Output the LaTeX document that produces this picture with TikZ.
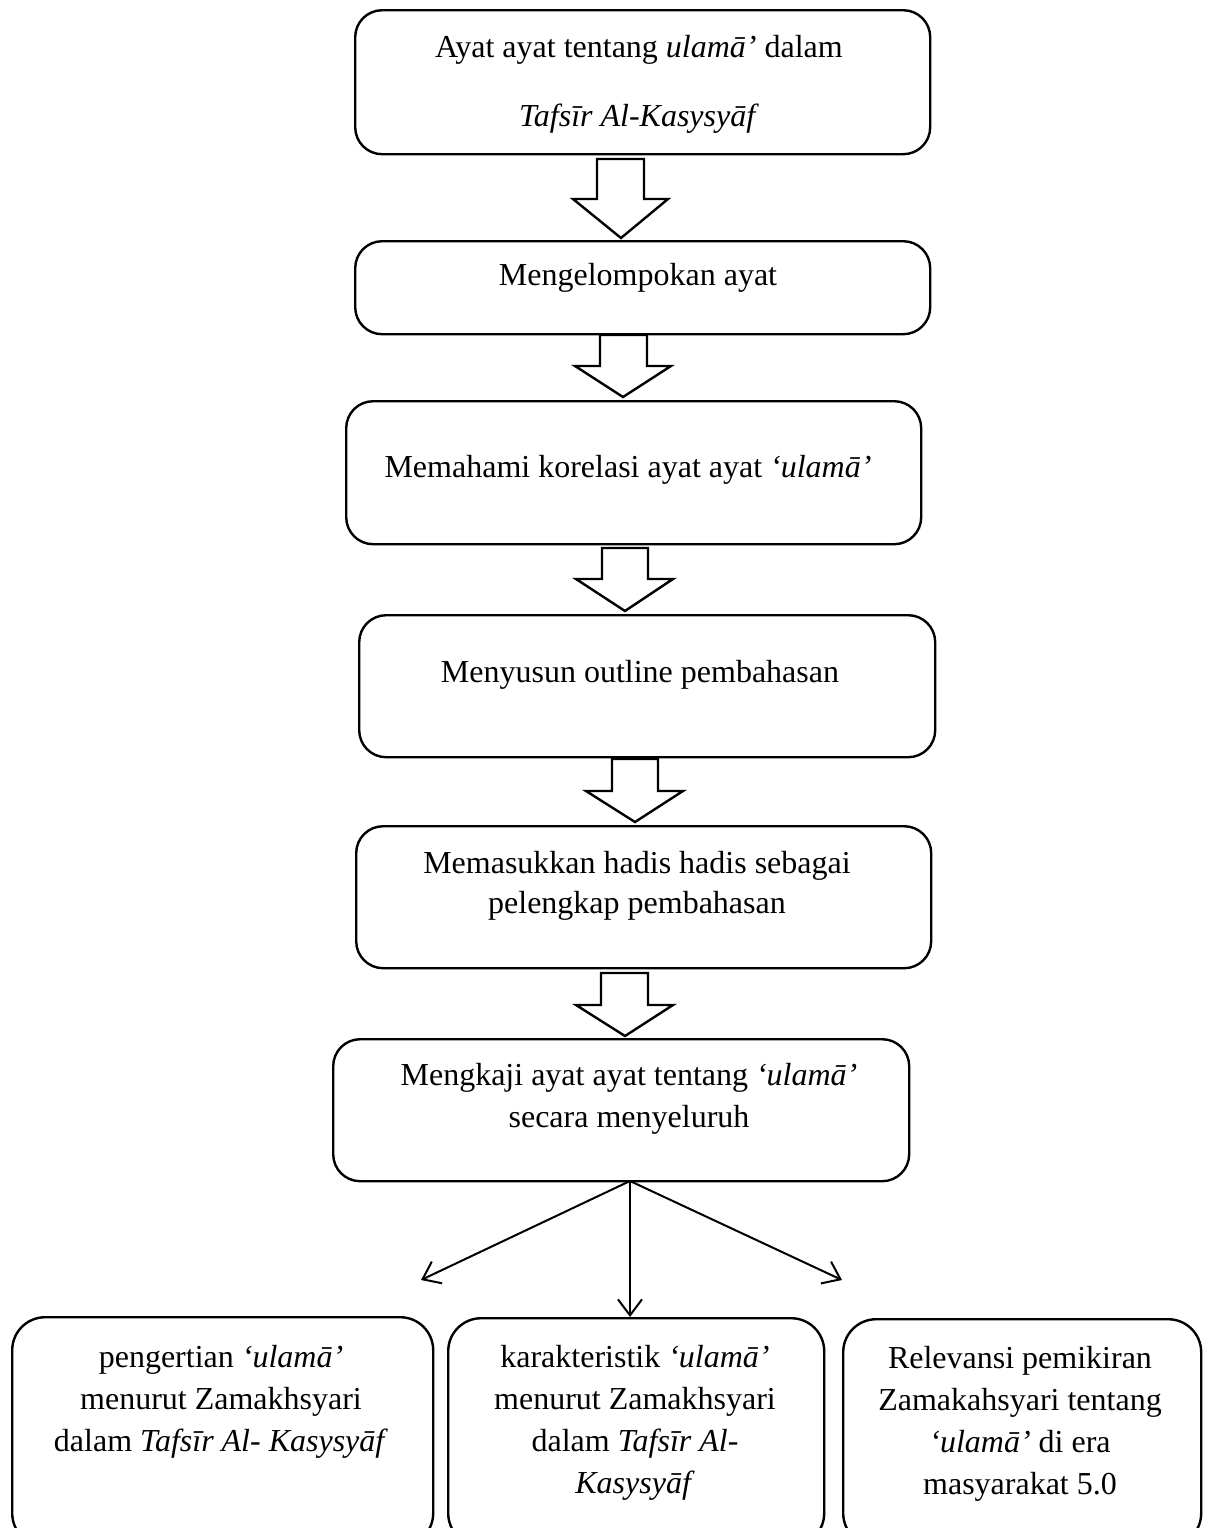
\documentclass[tikz,border=0pt]{standalone}
\usepackage{fontspec}
\setmainfont{Liberation Serif}
\usetikzlibrary{arrows.meta}
\newcommand{\fstr}{\rule{0pt}{13pt}}
\begin{document}
\begin{tikzpicture}[x=0.5pt,y=-0.5pt,
  box/.style={draw, line width=1.2pt, rounded corners=13.5pt, inner sep=0pt, anchor=north west},
  lowbox/.style={draw, line width=1.2pt, rounded corners=16.5pt, inner sep=0pt, anchor=north west},
  txt/.style={inner sep=0pt, anchor=north, align=center, font=\fontsize{16}{21}\selectfont},
  blockarrow/.style={draw, line width=1.2pt, fill=white, line join=miter},
  conn/.style={draw, line width=1pt, -{Straight Barb[length=8pt,width=12pt,line width=1pt]}}]
\useasboundingbox (0,0) rectangle (1205,1528);
\clip (0,0) rectangle (1205,1528);

% main boxes
\node[box, minimum width=287.5pt, minimum height=72pt] (b1) at (354,9) {};
\node[box, minimum width=287.5pt, minimum height=46.5pt] (b2) at (354,240) {};
\node[box, minimum width=287.5pt, minimum height=71.5pt] (b3) at (345,400) {};
\node[box, minimum width=288pt, minimum height=71pt] (b4) at (358,614) {};
\node[box, minimum width=287.5pt, minimum height=71pt] (b5) at (355,825) {};
\node[box, minimum width=288pt, minimum height=71pt] (b6) at (332,1038) {};

% bottom boxes (cut by the page edge)
\node[lowbox, minimum width=210.5pt, minimum height=114.5pt] (bA) at (11,1316) {};
\node[lowbox, minimum width=188pt, minimum height=114pt] (bB) at (447,1317) {};
\node[lowbox, minimum width=179pt, minimum height=113.5pt] (bC) at (842,1318) {};

% texts
\node[txt, font=\fontsize{16}{34.5}\selectfont] (t1) at (639,31) {\fstr Ayat ayat tentang \textit{ulamā’} dalam\\ \textit{Tafsīr Al-Kasysyāf}};
\node[txt] (t2) at (638,259) {\fstr Mengelompokan ayat};
\node[txt] (t3) at (628,451) {\fstr Memahami korelasi ayat ayat \textit{‘ulamā’}};
\node[txt] (t4) at (640,656) {\fstr Menyusun outline pembahasan};
\node[txt, font=\fontsize{16}{20}\selectfont] (t5) at (637,847) {\fstr Memasukkan hadis hadis sebagai\\ pelengkap pembahasan};
\node[txt] (t6) at (629,1059) {\fstr Mengkaji ayat ayat tentang \textit{‘ulamā’}\\ secara menyeluruh};
\node[txt] (tA) at (221,1341) {\fstr pengertian \textit{‘ulamā’}\\ menurut Zamakhsyari\\ dalam \textit{Tafsīr Al- Kasysyāf}};
\node[txt] (tB) at (635,1341) {\fstr karakteristik \textit{‘ulamā’}\\ menurut Zamakhsyari\\ dalam \textit{Tafsīr Al-}\\ \textit{Kasysyāf}};
\node[txt] (tC) at (1020,1342) {\fstr Relevansi pemikiran\\ Zamakahsyari tentang\\ \textit{‘ulamā’} di era\\ masyarakat 5.0};

% block arrows
\draw[blockarrow] (597,159) -- (644,159) -- (644,199) -- (668,199) -- (621,238) -- (573,199) -- (597,199) -- cycle;
\draw[blockarrow] (600,335) -- (647,335) -- (647,366) -- (671,366) -- (623,397) -- (575,366) -- (600,366) -- cycle;
\draw[blockarrow] (602,548) -- (648,548) -- (648,579) -- (673,579) -- (625,611) -- (576,579) -- (602,579) -- cycle;
\draw[blockarrow] (612,759) -- (658,759) -- (658,791) -- (683,791) -- (635,822) -- (586,791) -- (612,791) -- cycle;
\draw[blockarrow] (601,973) -- (648,973) -- (648,1005) -- (673,1005) -- (625,1036) -- (576,1005) -- (601,1005) -- cycle;

% connectors
\coordinate (src) at (630,1181);
\coordinate (endL) at (421,1280);
\coordinate (endR) at (842,1280);
\draw[conn] (src) -- (endL);
\draw[conn] (src) -- (src |- bB.north);
\draw[conn] (src) -- (endR);
\end{tikzpicture}
\end{document}
